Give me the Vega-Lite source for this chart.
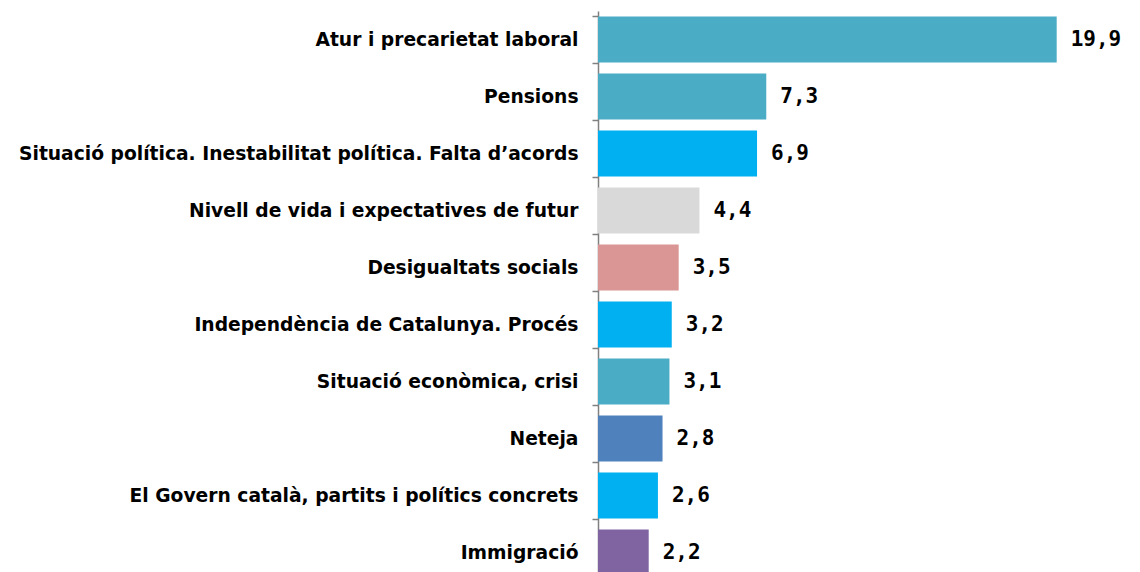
{
  "$schema": "https://vega.github.io/schema/vega-lite/v6.json",
  "autosize": {"type": "none"},
  "width": 461,
  "height": 570,
  "padding": {"left": 598, "top": 11, "right": 81, "bottom": 0},
  "background": "white",
  "config": {
    "view": {"stroke": null},
    "locale": {"number": {"decimal": ",", "thousands": ".", "grouping": [3], "currency": ["", " €"]}}
  },
  "data": {
    "values": [
      {"tema": "Atur i precarietat laboral", "valor": 19.9, "color": "#4BACC6"},
      {"tema": "Pensions", "valor": 7.3, "color": "#4BACC6"},
      {"tema": "Situació política. Inestabilitat política. Falta d’acords", "valor": 6.9, "color": "#00B0F0"},
      {"tema": "Nivell de vida i expectatives de futur", "valor": 4.4, "color": "#D9D9D9"},
      {"tema": "Desigualtats socials", "valor": 3.5, "color": "#D99694"},
      {"tema": "Independència de Catalunya. Procés", "valor": 3.2, "color": "#00B0F0"},
      {"tema": "Situació econòmica, crisi", "valor": 3.1, "color": "#4BACC6"},
      {"tema": "Neteja", "valor": 2.8, "color": "#4F81BD"},
      {"tema": "El Govern català, partits i polítics concrets", "valor": 2.6, "color": "#00B0F0"},
      {"tema": "Immigració", "valor": 2.2, "color": "#8064A2"}
    ]
  },
  "encoding": {
    "y": {
      "field": "tema",
      "type": "nominal",
      "sort": null,
      "scale": {"paddingInner": 0.19, "paddingOuter": 0.095},
      "axis": {
        "title": null,
        "domainColor": "#808080",
        "domainWidth": 1.5,
        "tickColor": "#808080",
        "tickWidth": 1.5,
        "tickSize": 6,
        "tickBand": "extent",
        "labelPadding": 14,
        "labelFont": "DejaVu Sans",
        "labelFontWeight": "bold",
        "labelFontSize": 18.7,
        "labelColor": "black",
        "labelLimit": 700
      }
    },
    "x": {
      "field": "valor",
      "type": "quantitative",
      "scale": {"domain": [0, 20], "nice": false},
      "axis": null
    }
  },
  "layer": [
    {
      "mark": {"type": "bar"},
      "encoding": {"color": {"field": "color", "type": "nominal", "scale": null}}
    },
    {
      "mark": {"type": "text", "align": "left", "baseline": "middle", "dx": 14, "font": "DejaVu Sans Mono", "fontWeight": "bold", "fontSize": 21, "color": "black"},
      "encoding": {"text": {"field": "valor", "type": "quantitative", "format": ".1f"}}
    }
  ]
}
